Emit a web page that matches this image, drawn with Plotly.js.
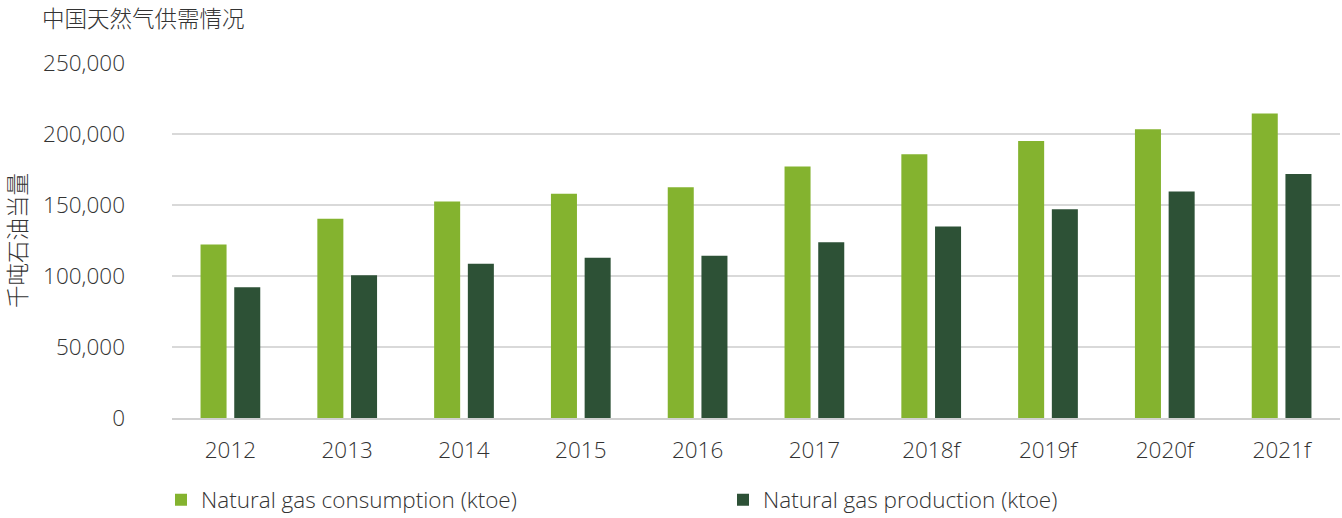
<!DOCTYPE html>
<html>
<head>
<meta charset="utf-8">
<script src="https://cdn.plot.ly/plotly-3.0.1.min.js"></script>
<style>html,body{margin:0;padding:0;background:#fff;}#chart{width:1342px;height:518px;}</style>
</head>
<body>
<div id="chart"></div>
<script>
var years = ["2012","2013","2014","2015","2016","2017","2018f","2019f","2020f","2021f"];
var consumption = [122200,140300,152500,157900,162500,177200,185700,195100,203300,214400];
var production = [92000,100500,108700,112900,114300,123700,134900,147000,159500,171900];
var seriesNames = ["Natural gas consumption (ktoe)","Natural gas production (ktoe)"];
var yTicks = [0,50000,100000,150000,200000,250000];
var chartTitle = "中国天然气供需情况";
var yTitle = "千吨石油当量";

var fontFam = "'Open Sans', 'Noto Sans CJK SC', sans-serif";
var cjk = "'Noto Sans CJK SC', sans-serif";
var traces = [
  {type:"bar", x:years, y:consumption, name:seriesNames[0], marker:{color:"#84b32f"}, hoverinfo:"y"},
  {type:"bar", x:years, y:production, name:seriesNames[1], marker:{color:"#2d5136"}, hoverinfo:"y"}
];
var layout = {
  width:1342, height:518,
  margin:{l:172, r:2, t:63, b:100, autoexpand:false},
  paper_bgcolor:"#fff", plot_bgcolor:"#fff",
  font:{family:fontFam, size:22.5, color:"#333", weight:300},
  barmode:"group", bargap:0.423, bargroupgap:0.228,
  title:{text:chartTitle, x:42/1342, xref:"container", xanchor:"left", y:1-19/518, yref:"container", yanchor:"middle",
         font:{family:cjk, size:22.5, color:"#333", weight:300}},
  xaxis:{type:"category", showgrid:false, showline:true, linecolor:"#d0d0d0", linewidth:2,
         ticks:"", ticklabelstandoff:11, tickfont:{size:22.5, color:"#333"}},
  yaxis:{range:[0,250000], tickvals:yTicks, tickformat:",d", showgrid:true, gridcolor:"#d9d9d9", gridwidth:2,
         zeroline:false, showline:false, ticks:"", ticklabelstandoff:46, tickfont:{size:22.5, color:"#333"},
         title:{text:yTitle, standoff:16, font:{family:cjk, size:22.5, color:"#333", weight:300}}},
  legend:{orientation:"h", xref:"container", x:161/1342, xanchor:"left", yref:"container", y:1-500/518, yanchor:"middle",
          entrywidth:517, entrywidthmode:"pixels", font:{size:22.5, color:"#333"}, traceorder:"normal"},
  showlegend:true
};
Plotly.newPlot("chart", traces, layout, {displayModeBar:false, staticPlot:true});
</script>
</body>
</html>
